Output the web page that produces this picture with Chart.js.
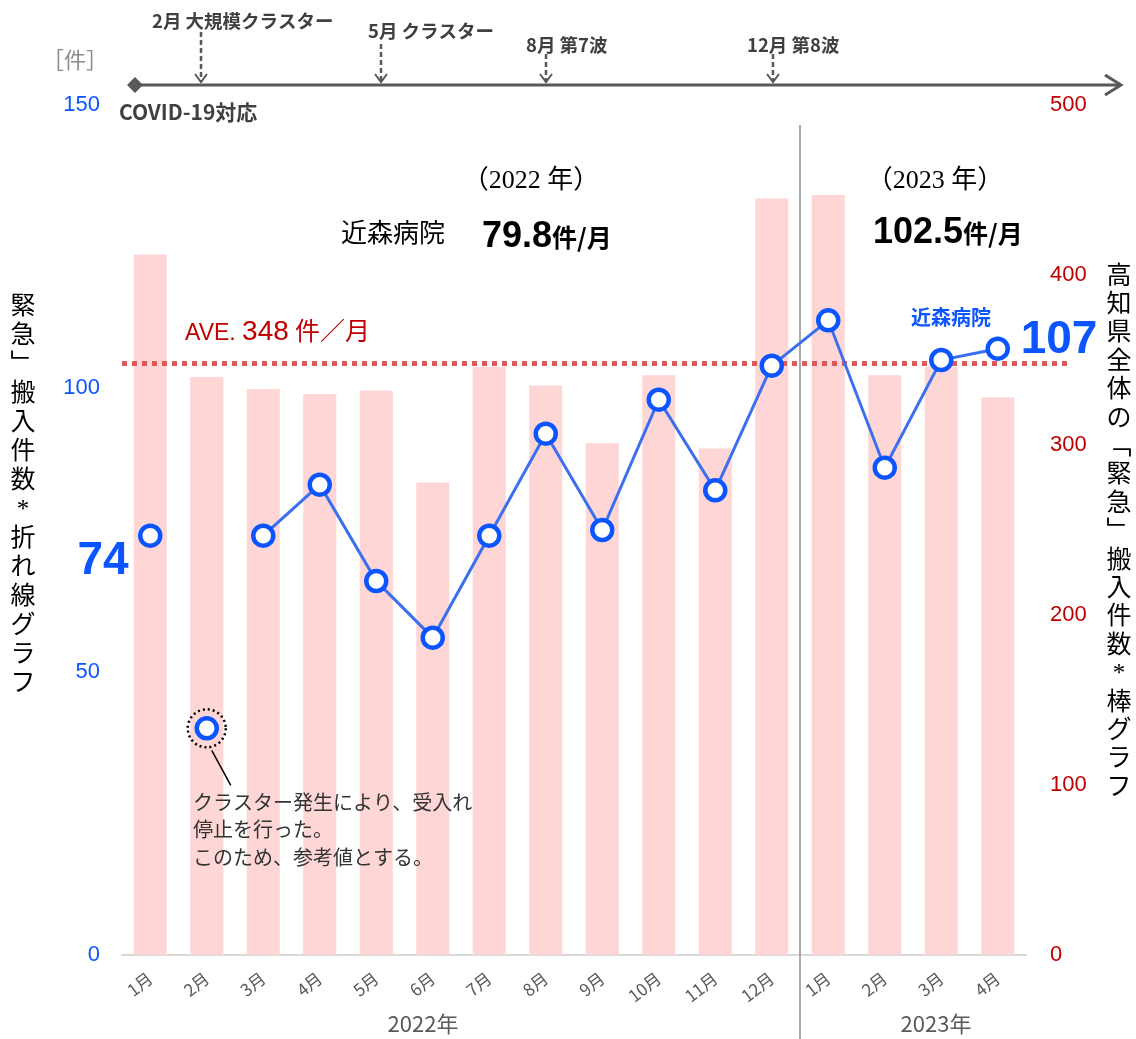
<!DOCTYPE html>
<html lang="ja">
<head>
<meta charset="utf-8">
<script src="https://cdn.jsdelivr.net/npm/chart.js@4.4.0/dist/chart.umd.min.js"></script>
<style>
  html, body { margin: 0; padding: 0; background: #fff; }
  #wrap { width: 1136px; height: 1039px; position: relative; }
</style>
</head>
<body>
<div id="wrap"><canvas id="combo"></canvas></div>
<script>
// months (2022/1 - 2023/4)
const months = ['1月', '2月', '3月', '4月', '5月', '6月', '7月', '8月', '9月', '10月', '11月', '12月', '1月', '2月', '3月', '4月'];
// 高知県全体の「緊急」搬入件数 (right axis, bars)
const kochiTotal = [412, 340, 333, 330, 332, 278, 346, 335, 301, 341, 298, 445, 447, 341, 346, 328];
// 近森病院 (left axis, line)
const kinmori = [74, 40, 74, 83, 66, 56, 74, 92, 75, 98, 82, 104, 112, 86, 105, 107];
const clusterIdx = 1;       // 2月: reference value only
const kochiAve = 348;
const leftTicks = [0, 50, 100, 150];
const rightTicks = [0, 100, 200, 300, 400, 500];

const BLUE = '#0a55ff';
const RED = '#c00000';
const GRAY = '#595959';
const JP = '"Noto Sans CJK JP", "Noto Sans", sans-serif';
const SERIF = '"Liberation Serif", "DejaVu Serif", "Noto Sans CJK JP", serif';
const SANS = '"Liberation Sans", Arial, "Noto Sans CJK JP", sans-serif';

const lineData = kinmori.map((v, i) => (i === clusterIdx ? null : v));
const clusterData = kinmori.map((v, i) => (i === clusterIdx ? v : null));

function text(ctx, str, x, y, font, color, align) {
    ctx.font = font;
    ctx.fillStyle = color;
    ctx.textAlign = align || 'left';
    ctx.textBaseline = 'middle';
    ctx.fillText(str, x, y);
}

// draw several pieces one after another on one baseline
function runs(ctx, parts, x, y) {
    ctx.textBaseline = 'alphabetic';
    ctx.textAlign = 'left';
    parts.forEach(p => {
        ctx.font = p[1];
        ctx.fillStyle = p[2];
        ctx.fillText(p[0], x, y);
        x += ctx.measureText(p[0]).width;
    });
}

function vertical(ctx, str, x, y0, step, font) {
    ctx.font = font;
    ctx.fillStyle = '#000';
    ctx.textAlign = 'center';
    ctx.textBaseline = 'middle';
    Array.from(str).forEach((ch, i) => ctx.fillText(ch, x, y0 + i * step));
}

function dashedArrow(ctx, x, y0, y1) {
    ctx.save();
    ctx.strokeStyle = GRAY;
    ctx.lineWidth = 2.5;
    ctx.setLineDash([5, 3]);
    ctx.beginPath();
    ctx.moveTo(x, y0);
    ctx.lineTo(x, y1);
    ctx.stroke();
    ctx.setLineDash([]);
    ctx.lineWidth = 2;
    ctx.beginPath();
    ctx.moveTo(x - 6, y1 - 8);
    ctx.lineTo(x, y1);
    ctx.lineTo(x + 6, y1 - 8);
    ctx.stroke();
    ctx.restore();
}

const overlay = {
    id: 'overlay',
    afterDatasetDraw(chart, args) {
        if (args.index !== 2) return;
        const ctx = chart.ctx;
        const x = chart.scales.x;
        const y1 = chart.scales.y1;
        // average dotted line
        const ay = y1.getPixelForValue(kochiAve);
        ctx.save();
        ctx.strokeStyle = '#dc5a5a';
        ctx.lineWidth = 5;
        ctx.setLineDash([5, 5]);
        ctx.beginPath();
        ctx.moveTo(chart.chartArea.left, ay);
        ctx.lineTo(1072, ay);
        ctx.stroke();
        ctx.restore();
        // separator between 2022 and 2023
        const sx = (x.getPixelForValue(11) + x.getPixelForValue(12)) / 2;
        ctx.save();
        ctx.strokeStyle = '#8c8c8c';
        ctx.lineWidth = 1.5;
        ctx.beginPath();
        ctx.moveTo(sx, 125);
        ctx.lineTo(sx, 1039);
        ctx.stroke();
        ctx.restore();
    },
    afterDraw(chart) {
        const ctx = chart.ctx;
        const x = chart.scales.x;
        const y = chart.scales.y;
        ctx.save();

        // timeline on top
        ctx.strokeStyle = GRAY;
        ctx.fillStyle = GRAY;
        ctx.lineWidth = 3;
        ctx.beginPath();
        ctx.moveTo(135, 85);
        ctx.lineTo(1119, 85);
        ctx.stroke();
        ctx.lineWidth = 3;
        ctx.beginPath();
        ctx.moveTo(1105, 75);
        ctx.lineTo(1121, 85);
        ctx.lineTo(1105, 95);
        ctx.stroke();
        ctx.beginPath();
        ctx.moveTo(127, 85);
        ctx.lineTo(135, 77);
        ctx.lineTo(143, 85);
        ctx.lineTo(135, 93);
        ctx.closePath();
        ctx.fill();
        dashedArrow(ctx, 201, 32, 82);
        dashedArrow(ctx, 381, 44, 82);
        dashedArrow(ctx, 546, 54, 82);
        dashedArrow(ctx, 773, 54, 82);
        const tf = 'bold 18.5px ' + JP;
        text(ctx, '2月 大規模クラスター', 152, 21, tf, '#404040');
        text(ctx, '5月 クラスター', 368, 31, tf, '#404040');
        text(ctx, '8月 第7波', 526, 45, tf, '#404040');
        text(ctx, '12月 第8波', 747, 45, tf, '#404040');
        text(ctx, 'COVID-19対応', 119, 112, 'bold 21px ' + JP, '#404040');
        text(ctx, '［件］', 75, 60, '22px ' + JP, '#8c8c8c', 'center');

        // axis titles (vertical)
        vertical(ctx, '緊急﹂搬入件数*折れ線グラフ', 23, 307, 29, '25px ' + SERIF);
        vertical(ctx, '高知県全体の﹁緊急﹂搬入件数*棒グラフ', 1119, 277, 28.4, '25px ' + SERIF);

        // year headers and averages
        text(ctx, '（2022 年）', 531, 181, '26px ' + SERIF, '#000', 'center');
        text(ctx, '（2023 年）', 935, 181, '26px ' + SERIF, '#000', 'center');
        text(ctx, '近森病院', 341, 235, '26px ' + SERIF, '#000');
        runs(ctx, [['79.8', 'bold 36px ' + SANS, '#000'], ['件/月', 'bold 25px ' + JP, '#000']], 482, 247);
        runs(ctx, [['102.5', 'bold 36px ' + SANS, '#000'], ['件/月', 'bold 25px ' + JP, '#000']], 873, 243);

        // average label
        runs(ctx, [['AVE. ', '23px ' + SANS, RED], ['348', '28px ' + SANS, RED], [' 件／月', '25px ' + SERIF, RED]], 185, 340);

        // line labels
        text(ctx, '近森病院', 951, 317, 'bold 20px ' + JP, BLUE, 'center');
        text(ctx, String(kinmori[15]), 1059, 340, 'bold 46px ' + SANS, BLUE, 'center');
        text(ctx, String(kinmori[0]), 103, 561, 'bold 46px ' + SANS, BLUE, 'center');

        // cluster note
        const cx = x.getPixelForValue(clusterIdx);
        const cy = y.getPixelForValue(kinmori[clusterIdx]);
        ctx.strokeStyle = '#000';
        ctx.lineWidth = 2.5;
        ctx.setLineDash([2, 3]);
        ctx.beginPath();
        ctx.arc(cx, cy, 19, 0, Math.PI * 2);
        ctx.stroke();
        ctx.setLineDash([]);
        ctx.lineWidth = 1.5;
        ctx.beginPath();
        ctx.moveTo(cx + 5, cy + 22);
        ctx.lineTo(cx + 24, cy + 57);
        ctx.stroke();
        const nf = '20px ' + JP;
        text(ctx, 'クラスター発生により、受入れ', 193, 802, nf, '#333');
        text(ctx, '停止を行った。', 193, 829, nf, '#333');
        text(ctx, 'このため、参考値とする。', 193, 857, nf, '#333');

        // year labels under the months
        text(ctx, '2022年', 423, 1024, '22px ' + JP, GRAY, 'center');
        text(ctx, '2023年', 936, 1024, '22px ' + JP, GRAY, 'center');
        ctx.restore();
    }
};

const pointStyle = {
    pointRadius: 10,
    pointHoverRadius: 10,
    pointBackgroundColor: '#fff',
    pointBorderColor: BLUE,
    pointBorderWidth: 4.5
};

new Chart(document.getElementById('combo'), {
    type: 'bar',
    data: {
        labels: months,
        datasets: [{
            type: 'line',
            label: '近森病院',
            data: lineData,
            yAxisID: 'y',
            borderColor: '#3a6ff0',
            borderWidth: 3,
            spanGaps: false,
            order: 1,
            ...pointStyle
        }, {
            type: 'line',
            label: '近森病院（参考値）',
            data: clusterData,
            yAxisID: 'y',
            showLine: false,
            order: 1,
            ...pointStyle
        }, {
            type: 'bar',
            label: '高知県全体',
            data: kochiTotal,
            yAxisID: 'y1',
            backgroundColor: '#ffd6d6',
            barPercentage: 0.585,
            categoryPercentage: 1,
            order: 2
        }]
    },
    options: {
        responsive: true,
        maintainAspectRatio: false,
        animation: false,
        layout: { padding: { top: 105, left: 0, right: 0, bottom: 0 } },
        plugins: {
            legend: { display: false },
            tooltip: { enabled: false }
        },
        scales: {
            x: {
                grid: { display: false, drawTicks: false },
                border: { display: true, color: '#d9d9d9', width: 2 },
                ticks: {
                    color: GRAY,
                    font: { family: JP, size: 17 },
                    minRotation: 38,
                    maxRotation: 38,
                    padding: 13,
                    autoSkip: false
                },
                afterFit: s => { s.height = 84; }
            },
            y: {
                position: 'left',
                min: 0,
                max: 150,
                grid: { display: false, drawTicks: false },
                border: { display: false },
                afterBuildTicks: s => { s.ticks = leftTicks.map(v => ({ value: v })); },
                ticks: {
                    color: BLUE,
                    font: { family: SANS, size: 22 },
                    padding: 22
                },
                afterFit: s => { s.width = 122; }
            },
            y1: {
                position: 'right',
                min: 0,
                max: 500,
                grid: { display: false, drawTicks: false },
                border: { display: false },
                afterBuildTicks: s => { s.ticks = rightTicks.map(v => ({ value: v })); },
                ticks: {
                    color: RED,
                    font: { family: SANS, size: 22 },
                    padding: 24
                },
                afterFit: s => { s.width = 110; }
            }
        }
    },
    plugins: [overlay]
});
</script>
</body>
</html>
